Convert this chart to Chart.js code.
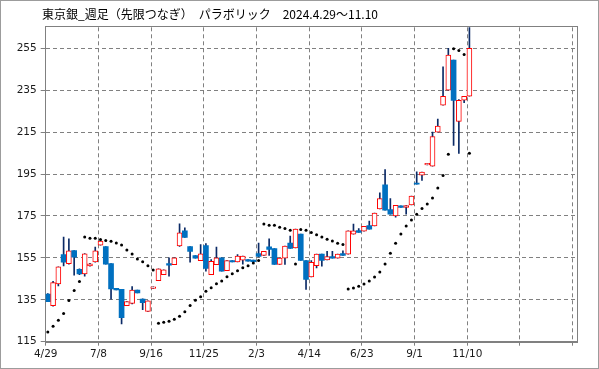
<!DOCTYPE html>
<html lang="ja">
<head>
<meta charset="utf-8">
<title>東京銀 週足 パラボリック</title>
<script src="https://cdn.jsdelivr.net/npm/chart.js@4.4.1/dist/chart.umd.min.js"></script>
<style>
    html, body { margin: 0; padding: 0; background: #fff; }
    #wrap { width: 599px; height: 369px; }
    canvas { display: block; }
</style>
</head>
<body>
<div id="wrap"><canvas id="sarChart" width="599" height="369"></canvas></div>
<script>
// Title text
const titleText = '東京銀_週足（先限つなぎ）　パラボリック　2024.4.29～11.10';

// X axis: week index (0 = 2024/4/29), one label every 10 weeks
const xTickWeeks = [0, 10, 20, 30, 40, 50, 60, 70, 80, 90, 100];
const xTickLabels = ['4/29', '7/8', '9/16', '11/25', '2/3', '4/14', '6/23', '9/1', '11/10', '', ''];

// Y axis ticks
const yTicks = [115, 135, 155, 175, 195, 215, 235, 255];

// Weekly OHLC
const openPrices = [
    137.7, 132.2, 142.6, 156.6, 152.2, 158.5, 149.5, 147.3, 151.2, 153.1,
    161.1, 160.4, 152.3, 140.5, 140.0, 132.2, 133.3, 139.6, 135.3, 129.5,
    140.4, 144.1, 147.0, 152.3, 151.7, 160.7, 167.9, 160.4, 156.1, 153.6,
    160.8, 147.0, 151.7, 155.0, 148.9, 153.7, 153.1, 153.9, 154.2, 153.9,
    157.0, 156.2, 160.3, 159.4, 151.9, 154.9, 162.0, 159.7, 166.3, 153.7,
    145.9, 151.3, 156.8, 154.0, 155.6, 154.9, 157.0, 156.8, 166.3, 168.0,
    167.7, 170.4, 170.2, 178.3, 189.9, 178.0, 175.0, 179.8, 179.1, 180.2,
    190.7, 194.4, 199.3, 198.8, 215.0, 227.9, 235.0, 249.4, 220.1, 230.2,
    232.1
];
const highPrices = [
    138.0, 143.8, 150.7, 164.9, 164.1, 158.5, 149.8, 157.0, 152.4, 160.2,
    163.3, 160.4, 152.3, 140.5, 140.0, 134.2, 141.3, 139.6, 135.5, 134.5,
    141.2, 149.8, 149.3, 155.0, 155.0, 171.2, 169.3, 160.4, 156.1, 161.3,
    161.8, 154.2, 160.2, 155.0, 153.7, 153.7, 156.6, 155.8, 154.2, 153.9,
    162.0, 158.1, 164.1, 159.4, 154.9, 160.6, 165.4, 168.7, 166.3, 153.7,
    153.7, 156.8, 156.8, 158.1, 158.1, 156.8, 158.4, 167.9, 171.1, 169.0,
    170.1, 172.6, 176.4, 186.0, 197.1, 183.3, 180.1, 179.8, 179.9, 184.5,
    196.1, 195.9, 200.1, 215.0, 221.2, 246.1, 255.0, 249.4, 230.5, 232.1,
    270.0
];
const lowPrices = [
    134.1, 132.0, 141.6, 151.1, 152.0, 146.8, 147.0, 146.3, 151.0, 153.0,
    161.0, 152.0, 135.3, 139.7, 123.5, 132.2, 133.0, 138.3, 130.3, 129.5,
    140.4, 144.1, 147.0, 146.3, 151.7, 160.5, 164.8, 153.0, 154.8, 153.6,
    148.7, 147.0, 151.7, 148.7, 148.9, 153.1, 153.1, 152.0, 153.4, 153.2,
    155.5, 156.2, 156.2, 151.9, 151.9, 151.9, 159.5, 159.7, 153.8, 139.9,
    145.9, 150.2, 151.0, 154.0, 154.9, 154.9, 156.2, 156.8, 166.3, 167.1,
    167.7, 168.7, 170.2, 178.3, 177.7, 175.8, 174.4, 179.1, 175.8, 180.2,
    190.1, 192.0, 199.3, 198.8, 215.0, 227.9, 235.0, 208.7, 204.8, 229.0,
    232.1
];
const closePrices = [
    134.1, 143.2, 150.7, 153.0, 158.3, 155.3, 147.3, 156.9, 152.2, 158.3,
    163.0, 152.0, 140.2, 139.7, 126.5, 134.2, 139.6, 138.3, 133.6, 134.5,
    141.2, 149.8, 149.3, 151.5, 155.0, 167.0, 164.8, 158.1, 154.8, 156.9,
    150.0, 153.3, 155.0, 148.7, 153.7, 153.1, 155.8, 155.8, 153.4, 153.2,
    155.7, 158.1, 159.0, 151.9, 154.9, 160.6, 159.5, 168.7, 153.8, 144.7,
    152.9, 156.8, 153.8, 155.6, 154.9, 156.8, 156.2, 167.9, 167.9, 167.1,
    170.1, 168.7, 176.4, 183.3, 177.7, 175.8, 180.1, 179.1, 179.9, 184.5,
    190.1, 195.9, 200.1, 212.9, 217.9, 232.1, 251.7, 230.1, 230.2, 232.1,
    255.0
];

// Parabolic SAR
const sarValues = [
    119.6, 122.4, 125.2, 128.5, 134.7, 139.4, 143.7, 164.9, 164.4, 164.4,
    163.8, 163.3, 162.9, 162.1, 161.1, 158.8, 156.9, 154.5, 153.1, 151.2,
    149.2, 123.8, 124.3, 124.8, 125.7, 127.1, 129.3, 132.3, 134.8, 136.4,
    139.1, 140.7, 142.7, 144.0, 146.0, 147.4, 148.9, 150.3, 151.2, 152.6,
    153.7, 171.1, 170.6, 170.6, 169.6, 169.0, 168.2, 152.1, 168.5, 168.2,
    167.1, 166.0, 164.9, 163.9, 163.0, 162.0, 161.4, 140.1, 140.6, 141.4,
    142.5, 144.0, 145.9, 148.3, 152.1, 157.2, 162.0, 166.4, 170.2, 173.1,
    175.8, 178.5, 180.7, 183.6, 188.3, 194.3, 204.4, 254.8, 253.9, 252.0,
    204.9
];

// Colours
const upColor = '#FF0000';
const downColor = '#0070C0';
const wickColor = '#0B2A66';
const gridColor = '#808080';

// Candles sit a little to the right of the weekly gridline
const candleShift = 0.4;

const isUp = closePrices.map((c, i) => c >= openPrices[i]);

const wickData = highPrices.map((h, i) => ({ x: i + candleShift, y: [lowPrices[i], h] }));
const bodyData = openPrices.map((o, i) => ({ x: i + candleShift, y: [o, closePrices[i]] }));
const sarData = sarValues.map((v, i) => ({ x: i + candleShift, y: v }));

// Frame plugin: background, outer border, title text and solid plot frame
const framePlugin = {
    id: 'frame',
    beforeDraw(chart) {
        const ctx = chart.ctx;
        ctx.save();
        ctx.fillStyle = '#fff';
        ctx.fillRect(0, 0, chart.width, chart.height);
        ctx.strokeStyle = '#9C9C9C';
        ctx.lineWidth = 1;
        ctx.strokeRect(0.5, 0.5, chart.width - 1, chart.height - 1);
        ctx.fillStyle = '#000';
        ctx.font = "12px 'Noto Sans CJK JP', sans-serif";
        ctx.textBaseline = 'middle';
        ctx.textAlign = 'left';
        ctx.fillText(titleText, 42, 14);
        ctx.restore();
    },
    beforeDatasetsDraw(chart) {
        const { ctx, chartArea } = chart;
        ctx.save();
        ctx.strokeStyle = '#808080';
        ctx.lineWidth = 1;
        const l = Math.round(chartArea.left) - 0.5;
        const t = Math.round(chartArea.top) - 0.5;
        const r = Math.round(chartArea.right) + 0.5;
        const b = Math.round(chartArea.bottom) + 0.5;
        ctx.strokeRect(l, t, r - l, b - t);
        ctx.restore();
    }
};

const tickFont = { family: "'DejaVu Sans', sans-serif", size: 10.5 };

new Chart(document.getElementById('sarChart').getContext('2d'), {
    type: 'bar',
    data: {
        datasets: [
            {
                type: 'line',
                label: 'SAR',
                data: sarData,
                showLine: false,
                pointRadius: 1.5,
                pointBorderWidth: 0,
                pointBackgroundColor: '#000',
                order: 0
            },
            {
                label: 'Body',
                data: bodyData,
                grouped: false,
                barThickness: 5,
                backgroundColor: isUp.map(u => u ? '#FFFFFF' : downColor),
                borderColor: isUp.map(u => u ? upColor : downColor),
                borderWidth: isUp.map(u => u ? 1 : 0),
                borderSkipped: false,
                order: 1
            },
            {
                label: 'Wick',
                data: wickData,
                grouped: false,
                barThickness: 1,
                backgroundColor: wickColor,
                borderWidth: 0,
                order: 2
            }
        ]
    },
    options: {
        responsive: false,
        animation: false,
        layout: {
            padding: { left: 0, right: 22.3, top: 27.3, bottom: 0 }
        },
        plugins: {
            legend: { display: false },
            tooltip: { enabled: false },
            title: { display: false }
        },
        scales: {
            x: {
                type: 'linear',
                offset: false,
                min: 0,
                max: 100.76,
                afterBuildTicks: axis => { axis.ticks = xTickWeeks.map(v => ({ value: v })); },
                afterFit: axis => { axis.height = 27.3; },
                grid: {
                    offset: false,
                    color: gridColor,
                    tickColor: gridColor,
                    tickLength: 4
                },
                border: { display: true, color: '#808080', dash: [4, 3] },
                ticks: {
                    autoSkip: false,
                    maxRotation: 0,
                    padding: 2,
                    color: '#1a1a1a',
                    font: tickFont,
                    callback: (value, index) => xTickLabels[index]
                }
            },
            y: {
                min: 115,
                max: 265,
                afterBuildTicks: axis => { axis.ticks = yTicks.map(v => ({ value: v })); },
                afterFit: axis => { axis.width = 45.7; },
                grid: {
                    color: gridColor,
                    tickColor: gridColor,
                    tickLength: 5
                },
                border: { display: true, color: '#808080', dash: [4, 3] },
                ticks: {
                    padding: 4,
                    color: '#1a1a1a',
                    font: tickFont
                }
            }
        }
    },
    plugins: [framePlugin]
});
</script>
</body>
</html>
